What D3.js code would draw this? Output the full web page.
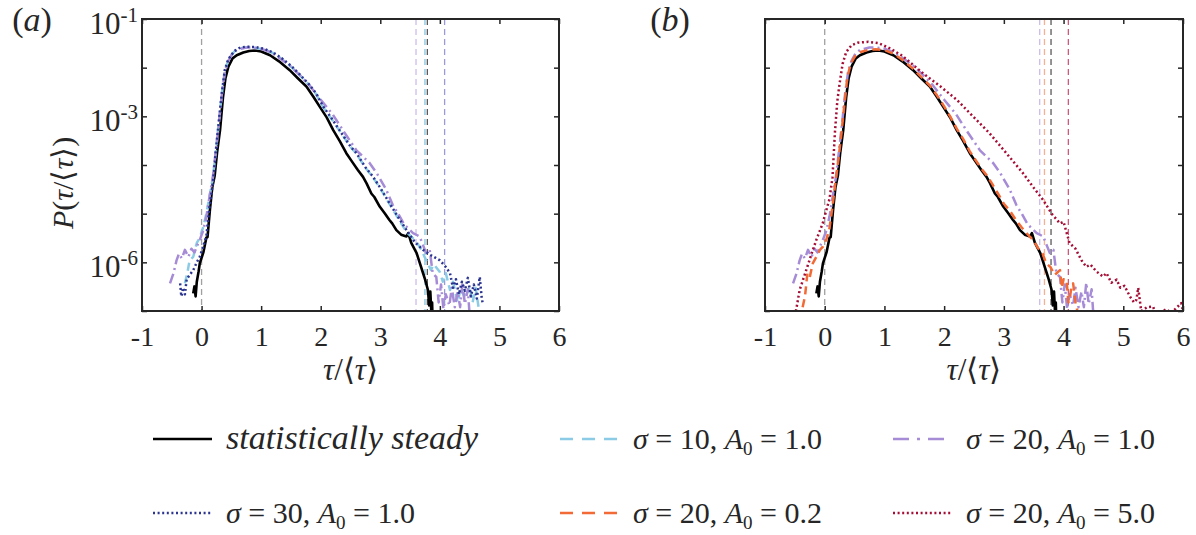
<!DOCTYPE html>
<html>
<head>
<meta charset="utf-8">
<script src="https://cdn.jsdelivr.net/npm/d3@7"></script>
<style>
body { margin: 0; background: #fff; }
text { font-family: "Liberation Serif", "Times New Roman", serif; fill: #262626; }
</style>
</head>
<body>
<div id="chart"></div>
<script>
// tick values
var xTicks = [-1, 0, 1, 2, 3, 4, 5, 6];
var yTicks = [1e-1, 1e-2, 1e-3, 1e-4, 1e-5, 1e-6, 1e-7];
var yLabelExps = [-1, -3, -6];

// [tau/<tau>, P]
var steady = [[-0.14,2.3e-7],[-0.12,3.2e-7],[-0.1,2.0e-7],[-0.08,4.0e-7],[-0.05,6.5e-7],[-0.03,9.5e-7],
  [0.03,1.6e-6],[0.08,3.2e-6],[0.1,3.3e-6],[0.14,1.2e-5],[0.18,3.5e-5],[0.22,6.0e-5],[0.26,1.8e-4],
  [0.31,5.2e-4],[0.36,2.5e-3],[0.4,6.0e-3],[0.45,1.05e-2],[0.52,1.55e-2],[0.59,1.8e-2],[0.7,2.05e-2],
  [0.8,2.2e-2],[0.9,2.25e-2],[1.0,2.15e-2],[1.15,1.8e-2],[1.3,1.35e-2],[1.48,8.9e-3],[1.62,6.0e-3],
  [1.76,4.1e-3],[1.88,2.5e-3],[1.98,1.6e-3],[2.1,9.5e-4],[2.21,5.2e-4],[2.32,3.1e-4],[2.43,1.75e-4],
  [2.52,1.2e-4],[2.62,8.0e-5],[2.71,5.7e-5],[2.77,4.2e-5],[2.85,2.6e-5],[2.9,2.2e-5],[2.99,1.4e-5],
  [3.08,1.0e-5],[3.15,7.5e-6],[3.2,6.3e-6],[3.27,4.6e-6],[3.35,3.7e-6],[3.44,3.4e-6],[3.47,4.0e-6],
  [3.52,2.5e-6],[3.61,1.55e-6],[3.66,1.0e-6],[3.72,5.9e-7],[3.75,4.5e-7],[3.8,2.7e-7],[3.82,1.3e-7],
  [3.84,2.5e-7],[3.86,8e-8],[3.87,1.5e-7],[3.88,5e-8]];

var sigma10 = [[-0.28,3.7e-7],[-0.24,6e-7],[-0.2,1.1e-6],[-0.14,1.3e-6],[-0.08,2.5e-6],[-0.03,3.2e-6],
  [0.03,5.4e-6],[0.08,1.0e-5],[0.14,2.5e-5],[0.19,5.5e-5],[0.24,1.9e-4],[0.29,7.5e-4],[0.34,2.9e-3],
  [0.39,8.5e-3],[0.45,1.45e-2],[0.55,2.15e-2],[0.65,2.5e-2],[0.75,2.6e-2],[0.9,2.55e-2],[1.05,2.35e-2],
  [1.2,2.0e-2],[1.35,1.5e-2],[1.5,1.05e-2],[1.65,7.0e-3],[1.8,4.5e-3],[1.92,2.9e-3],[2.04,1.55e-3],
  [2.2,8.2e-4],[2.35,4.4e-4],[2.5,2.35e-4],[2.6,1.7e-4],[2.75,8.8e-5],[2.88,5.5e-5],[3.0,3.3e-5],
  [3.16,1.55e-5],[3.3,8.0e-6],[3.44,4.2e-6],[3.6,2.7e-6],[3.68,1.9e-6],[3.77,1.1e-6],[3.85,7e-7],
  [3.9,9e-7],[4.0,6.3e-7],[4.05,4e-7],[4.1,6e-7],[4.17,2.7e-7],[4.22,4e-7],[4.3,1.5e-7],[4.35,3e-7],
  [4.42,1.8e-7],[4.5,3.2e-7],[4.55,1.5e-7],[4.6,3.0e-7],[4.65,1.2e-7]];

var sigma20 = [[-0.53,3.7e-7],[-0.47,6e-7],[-0.42,1.1e-6],[-0.38,1.5e-6],[-0.33,1.2e-6],[-0.28,1.8e-6],
  [-0.22,1.3e-6],[-0.17,1.9e-6],[-0.12,1.6e-6],[-0.06,2.4e-6],[-0.03,2.9e-6],[0.03,4.6e-6],[0.08,8.7e-6],
  [0.14,2.5e-5],[0.19,5.8e-5],[0.24,2.0e-4],[0.29,7.0e-4],[0.34,2.8e-3],[0.39,8.0e-3],[0.45,1.4e-2],
  [0.52,2.0e-2],[0.6,2.35e-2],[0.75,2.6e-2],[0.85,2.6e-2],[1.0,2.45e-2],[1.15,2.1e-2],[1.3,1.6e-2],
  [1.48,1.1e-2],[1.65,7.0e-3],[1.8,4.5e-3],[2.0,2.2e-3],[2.2,1.1e-3],[2.4,4.6e-4],[2.6,2.0e-4],
  [2.82,1.1e-4],[2.95,6.5e-5],[3.1,3.1e-5],[3.21,1.5e-5],[3.3,1.0e-5],[3.4,6.0e-6],[3.55,4.0e-6],
  [3.62,3.6e-6],[3.66,3.4e-6],[3.72,2.2e-6],[3.77,1.55e-6],[3.83,1.8e-6],[3.88,5.9e-7],[3.94,5.0e-7],
  [3.98,1.5e-7],[4.02,3.5e-7],[4.06,1.1e-7],[4.1,2.2e-7],[4.16,1.3e-7],[4.2,3.0e-7],[4.25,1.2e-7],
  [4.3,2.5e-7],[4.34,1.2e-7],[4.38,3.8e-7],[4.42,1.4e-7],[4.47,2.8e-7],[4.5,8e-8]];

var sigma30 = [[-0.36,3.7e-7],[-0.34,2.0e-7],[-0.31,3.0e-7],[-0.28,2.2e-7],[-0.25,4.5e-7],[-0.2,5.5e-7],
  [-0.14,6.9e-7],[-0.08,1.0e-6],[-0.03,1.3e-6],[0.03,2.2e-6],[0.08,3.4e-6],[0.13,1.3e-5],[0.19,4.2e-5],
  [0.24,2.0e-4],[0.29,8e-4],[0.34,3.0e-3],[0.39,9e-3],[0.45,1.5e-2],[0.55,2.2e-2],[0.65,2.6e-2],
  [0.75,2.7e-2],[0.9,2.65e-2],[1.05,2.45e-2],[1.2,2.05e-2],[1.35,1.55e-2],[1.5,1.1e-2],[1.65,7.2e-3],
  [1.8,4.6e-3],[1.92,3.0e-3],[2.04,1.6e-3],[2.2,8.5e-4],[2.35,4.5e-4],[2.5,2.4e-4],[2.6,1.75e-4],
  [2.75,9e-5],[2.88,5.7e-5],[3.0,3.4e-5],[3.16,1.6e-5],[3.3,8.5e-6],[3.44,4.6e-6],[3.58,2.6e-6],
  [3.72,1.8e-6],[3.85,1.4e-6],[4.0,1.1e-6],[4.1,8e-7],[4.17,6.0e-7],[4.22,3.0e-7],[4.27,4.5e-7],
  [4.32,2.2e-7],[4.37,4.0e-7],[4.42,2.6e-7],[4.47,4.8e-7],[4.52,2.0e-7],[4.57,3.5e-7],[4.62,1.8e-7],
  [4.67,5.0e-7],[4.7,2.0e-7],[4.72,1.4e-7]];

var a0small = [[-0.37,1.2e-7],[-0.33,2.0e-7],[-0.29,6e-7],[-0.25,5e-7],[-0.2,9.5e-7],[-0.14,1.3e-6],
  [-0.08,1.8e-6],[-0.03,2.1e-6],[0.03,3e-6],[0.08,5e-6],[0.13,1.4e-5],[0.18,4.5e-5],[0.23,1.3e-4],
  [0.28,4.5e-4],[0.33,1.8e-3],[0.38,6.5e-3],[0.44,1.25e-2],[0.52,1.8e-2],[0.6,2.1e-2],[0.75,2.35e-2],
  [0.85,2.4e-2],[1.0,2.3e-2],[1.15,1.95e-2],[1.3,1.45e-2],[1.48,9.5e-3],[1.62,6.4e-3],[1.76,4.3e-3],
  [1.88,2.7e-3],[2.0,1.6e-3],[2.1,1.0e-3],[2.21,5.6e-4],[2.32,3.4e-4],[2.43,1.9e-4],[2.52,1.3e-4],
  [2.62,8.5e-5],[2.71,6.2e-5],[2.8,4.2e-5],[2.9,2.6e-5],[3.0,1.6e-5],[3.1,1.15e-5],[3.2,7.5e-6],
  [3.3,5.2e-6],[3.43,3.4e-6],[3.5,2.8e-6],[3.58,1.9e-6],[3.65,1.5e-6],[3.71,9.5e-7],[3.78,8e-7],
  [3.85,5.5e-7],[3.94,6.9e-7],[3.97,3e-7],[4.0,4.5e-7],[4.05,4.4e-7],[4.08,1.5e-7],[4.1,1.7e-7],
  [4.13,3e-7],[4.16,3.7e-7],[4.2,1.5e-7],[4.24,9e-8]];

var a0large = [[-0.5,8e-8],[-0.47,1.2e-7],[-0.42,2.7e-7],[-0.36,4.5e-7],[-0.31,6.9e-7],[-0.22,1.5e-6],
  [-0.14,2.9e-6],[-0.03,6.5e-6],[0.0,9e-6],[0.08,2.0e-5],[0.13,5.5e-5],[0.17,4.5e-4],[0.21,2.0e-3],
  [0.25,4.8e-3],[0.3,1.2e-2],[0.36,2.1e-2],[0.45,2.9e-2],[0.55,3.25e-2],[0.73,3.4e-2],[0.9,3.2e-2],
  [1.09,2.5e-2],[1.3,1.75e-2],[1.65,7.6e-3],[1.95,4.0e-3],[2.21,2.2e-3],[2.5,9.5e-4],[2.76,4.5e-4],
  [3.05,1.7e-4],[3.32,6.8e-5],[3.5,3.4e-5],[3.66,1.9e-5],[3.8,1.0e-5],[3.94,6.3e-6],[4.0,6.8e-6],
  [4.1,2.5e-6],[4.2,1.9e-6],[4.3,1.1e-6],[4.38,8.1e-7],[4.45,9e-7],[4.55,6.5e-7],[4.66,5.1e-7],
  [4.72,6.0e-7],[4.8,3.8e-7],[4.89,4.4e-7],[4.95,3.0e-7],[5.02,3.3e-7],[5.11,2.0e-7],[5.18,1.5e-7],
  [5.22,1.7e-7],[5.25,3.0e-7],[5.3,1.0e-7],[5.4,1.2e-7],[5.5,1.23e-7],[5.55,8e-8],[5.72,1.1e-7],
  [5.8,9e-8],[5.97,1.45e-7],[6.0,1.0e-7]];

// vertical dashed reference lines (tau/<tau>)
var zeroLine = [0];
var linesA = [3.6, 3.75, 3.79, 4.08];
var linesB = [3.6, 3.68, 3.79, 4.08];

// legend
var legendSigma = [null, 10, 20, 30, 20, 20];
var legendA0 = [null, '1.0', '1.0', '1.0', '0.2', '5.0'];

var styles = {
  steady:  {color: '#000000', dash: null, legendDash: null, width: 2.6},
  sigma10: {color: '#8ccbe6', dash: '8,5', legendDash: '13,9', width: 2.5},
  sigma20: {color: '#a68bd6', dash: '10,4,2,4', legendDash: '16,8,3,8', width: 2.5},
  sigma30: {color: '#2b3590', dash: '2,2.6', legendDash: '2,2.6', width: 2.5},
  a0small: {color: '#f26a36', dash: '8,5', legendDash: '13,9', width: 2.5},
  a0large: {color: '#a50d35', dash: '2,2.6', legendDash: '2,2.6', width: 2.5}
};

var width = 1196, height = 535;
var top_ = 19, bottom_ = 311;

var svg = d3.select('#chart').append('svg')
  .attr('width', width)
  .attr('height', height);

var panels = [
  {id: 'a', left: 142, right: 559, label: 'a', labelX: 32, yLabels: true,
   series: [['steady', steady], ['sigma10', sigma10], ['sigma20', sigma20], ['sigma30', sigma30]],
   vlines: [['#a0a0a0', zeroLine[0]], ['#cdbdea', linesA[0]], ['#86c3de', linesA[1]], ['#5a5a5a', linesA[2]], ['#9a9ad4', linesA[3]]]},
  {id: 'b', left: 765, right: 1183, label: 'b', labelX: 670, yLabels: false,
   series: [['steady', steady], ['sigma20', sigma20], ['a0small', a0small], ['a0large', a0large]],
   vlines: [['#a0a0a0', zeroLine[0]], ['#cdbdea', linesB[0]], ['#f8b092', linesB[1]], ['#5a5a5a', linesB[2]], ['#d4587a', linesB[3]]]}
];

panels.forEach(function(p) {
  var x = d3.scaleLinear().domain([-1, 6]).range([p.left, p.right]);
  var y = d3.scaleLog().domain([1e-7, 1e-1]).range([bottom_, top_]);
  var g = svg.append('g');

  g.append('clipPath').attr('id', 'clip' + p.id)
    .append('rect')
    .attr('x', p.left).attr('y', top_)
    .attr('width', p.right - p.left).attr('height', bottom_ - top_);

  var plot = g.append('g').attr('clip-path', 'url(#clip' + p.id + ')');

  // dashed reference lines
  plot.selectAll('line.ref')
    .data(p.vlines).enter()
    .append('line')
    .attr('class', 'ref')
    .attr('x1', function(d) { return x(d[1]); })
    .attr('x2', function(d) { return x(d[1]); })
    .attr('y1', top_)
    .attr('y2', bottom_)
    .attr('stroke', function(d) { return d[0]; })
    .attr('stroke-width', 1.3)
    .attr('stroke-dasharray', '6,4');

  var line = d3.line()
    .x(function(d) { return x(d[0]); })
    .y(function(d) { return y(d[1]); });

  p.series.forEach(function(s) {
    var st = styles[s[0]];
    plot.append('path')
      .datum(s[1])
      .attr('d', line)
      .attr('fill', 'none')
      .attr('stroke', st.color)
      .attr('stroke-width', st.width)
      .attr('stroke-linejoin', 'round')
      .attr('stroke-dasharray', st.dash);
  });

  // axes, ticks pointing inward
  var axB = g.append('g').attr('transform', 'translate(0,' + bottom_ + ')')
    .call(d3.axisBottom(x).tickValues(xTicks).tickSize(-5).tickSizeOuter(0).tickPadding(15)
      .tickFormat(function(d) { return String(d); }));
  axB.selectAll('text').attr('font-size', 28).attr('font-family', '"Liberation Serif", serif').attr('fill', '#262626');

  g.append('g').attr('transform', 'translate(0,' + top_ + ')')
    .call(d3.axisTop(x).tickValues(xTicks).tickSize(-5).tickSizeOuter(0).tickFormat(''));
  g.append('g').attr('transform', 'translate(' + p.left + ',0)')
    .call(d3.axisLeft(y).tickValues(yTicks).tickSize(-5).tickSizeOuter(0).tickFormat(''));
  g.append('g').attr('transform', 'translate(' + p.right + ',0)')
    .call(d3.axisRight(y).tickValues(yTicks).tickSize(-5).tickSizeOuter(0).tickFormat(''));

  g.selectAll('.domain').remove();
  g.selectAll('.tick line').attr('stroke', '#262626').attr('stroke-width', 1.5);

  g.append('rect')
    .attr('x', p.left).attr('y', top_)
    .attr('width', p.right - p.left).attr('height', bottom_ - top_)
    .attr('fill', 'none').attr('stroke', '#262626').attr('stroke-width', 2);

  if (p.yLabels) {
    yLabelExps.forEach(function(e) {
      var t = g.append('text')
        .attr('x', p.left - 4)
        .attr('y', y(Math.pow(10, e)) + 15)
        .attr('text-anchor', 'end')
        .attr('font-size', 31);
      t.append('tspan').text('10');
      t.append('tspan').attr('dy', -12).attr('font-size', 21).text(String(e));
    });

    // y label starts at the bottom (P) and reads upward
    var yl = g.append('text')
      .attr('transform', 'translate(73,229) rotate(-90)')
      .attr('text-anchor', 'start')
      .attr('font-size', 30);
    yl.append('tspan').style('font-style', 'italic').text('P');
    yl.append('tspan').text('(');
    yl.append('tspan').style('font-style', 'italic').text('τ');
    yl.append('tspan').text('/⟨');
    yl.append('tspan').style('font-style', 'italic').text('τ');
    yl.append('tspan').text('⟩)');
  }

  var xl = g.append('text')
    .attr('x', (p.left + p.right) / 2)
    .attr('y', 380)
    .attr('text-anchor', 'middle')
    .attr('font-size', 31);
  xl.append('tspan').style('font-style', 'italic').text('τ');
  xl.append('tspan').text('/⟨');
  xl.append('tspan').style('font-style', 'italic').text('τ');
  xl.append('tspan').text('⟩');

  var pl = g.append('text')
    .attr('x', p.labelX)
    .attr('y', 31)
    .attr('text-anchor', 'middle')
    .attr('font-size', 34);
  pl.append('tspan').text('(');
  pl.append('tspan').style('font-style', 'italic').text(p.label);
  pl.append('tspan').text(')');
});

// legend
var legendKeys = ['steady', 'sigma10', 'sigma20', 'sigma30', 'a0small', 'a0large'];
var colX = [153, 560, 893];
var rowY = [439, 513];

var legend = svg.append('g');
legendKeys.forEach(function(k, i) {
  var cx = colX[i % 3], cy = rowY[Math.floor(i / 3)];
  var st = styles[k];
  legend.append('line')
    .attr('x1', cx).attr('x2', cx + 59)
    .attr('y1', cy).attr('y2', cy)
    .attr('stroke', st.color)
    .attr('stroke-width', st.width)
    .attr('stroke-dasharray', st.legendDash);

  var t = legend.append('text')
    .attr('x', cx + 73)
    .attr('y', cy + 10)
    .attr('font-size', 30);
  if (legendSigma[i] === null) {
    t.attr('font-size', 34).style('font-style', 'italic').text('statistically steady');
  } else {
    t.append('tspan').style('font-style', 'italic').text('σ');
    t.append('tspan').text(' = ' + legendSigma[i] + ',  ');
    t.append('tspan').style('font-style', 'italic').text('A');
    t.append('tspan').attr('font-size', 19).attr('dy', 6).text('0');
    t.append('tspan').attr('dy', -6).text(' = ' + legendA0[i]);
  }
});
</script>
</body>
</html>
